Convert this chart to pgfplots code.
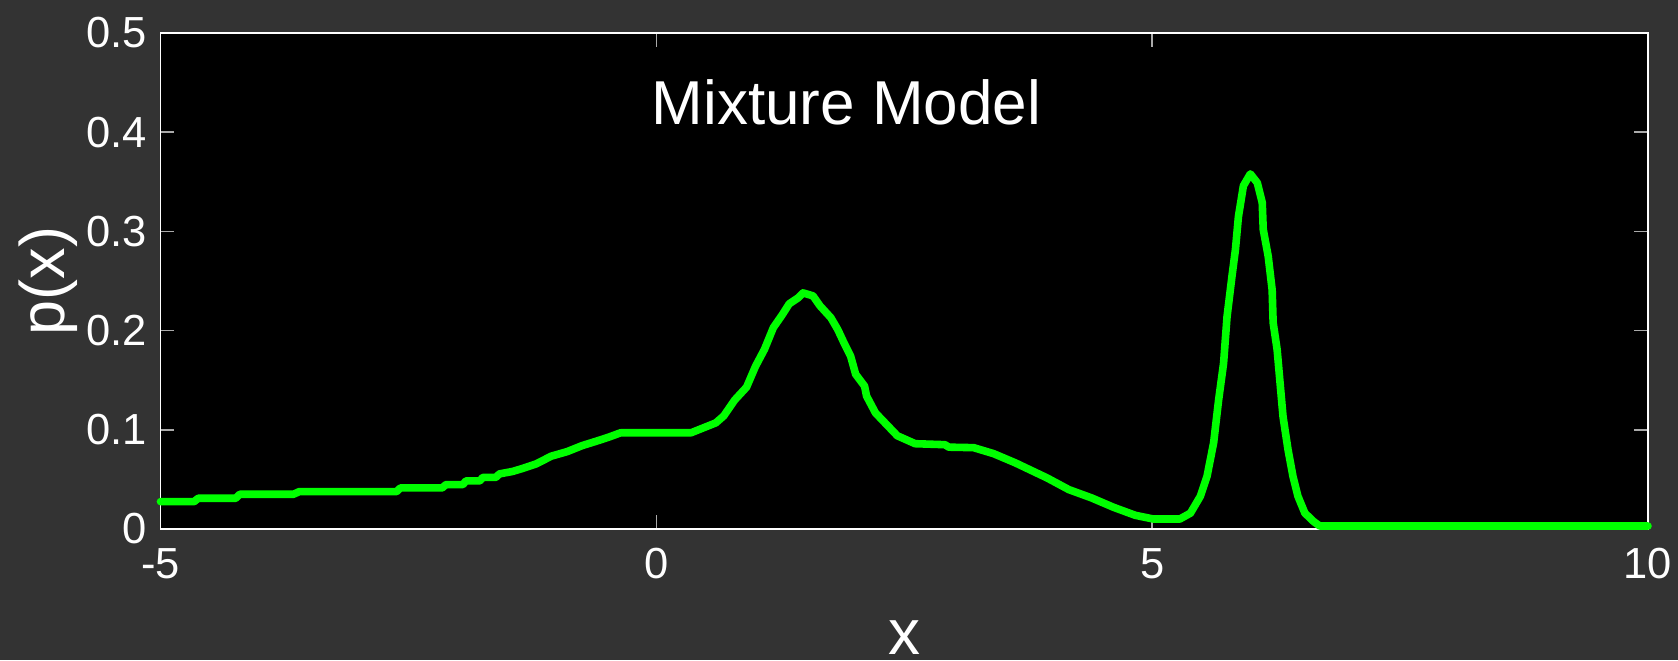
\documentclass[border=0pt]{standalone}
\usepackage{fontspec}
\setmainfont{Liberation Sans}
\usepackage{pgfplots}
\pgfplotsset{compat=1.18}
\definecolor{bgc}{RGB}{51,51,51}
\definecolor{ticc}{RGB}{170,170,170}
\definecolor{lgreen}{RGB}{0,255,0}
\begin{document}
\begin{tikzpicture}
\fill[bgc] (-80.25pt,-65.5pt) rectangle (758.75pt,264.5pt);
\begin{axis}[
  at={(0pt,0pt)}, anchor=south west,
  scale only axis, width=743.75pt, height=248pt,
  xmin=-5, xmax=10, ymin=0, ymax=0.5,
  xtick={-5,0,5,10}, ytick={0,0.1,0.2,0.3,0.4,0.5},
  axis background/.style={fill=black},
  axis line style={white, line width=0.8pt},
  tick style={ticc, line width=0.8pt},
  major tick length=7pt,
  tick align=inside,
  tick pos=both,
  clip=false,
  /pgf/number format/assume math mode=true,
  ticklabel style={white, font=\fontsize{21.75}{26}\selectfont},
  xticklabel style={anchor=base, inner sep=0pt, yshift=-24.5pt},
  yticklabel style={anchor=east, inner sep=0pt, xshift=-6.5pt},
  xlabel={x}, ylabel={p(x)},
  every axis x label/.style={at={(axis description cs:0.5,-0.254)}, anchor=base, inner sep=0pt, white, font=\fontsize{32}{38}\selectfont},
  every axis y label/.style={at={(axis description cs:-0.0756,0.5)}, rotate=90, anchor=center, inner sep=0pt, white, font=\fontsize{31.5}{38}\selectfont},
]
\addplot[lgreen, line width=3.8pt, line join=round, line cap=round] coordinates {
(-5,0.0276) (-4.66,0.0276) (-4.62,0.031) (-4.24,0.031) (-4.2,0.035) (-3.66,0.035)
(-3.6,0.0377) (-2.62,0.0377) (-2.58,0.0414) (-2.16,0.0414) (-2.12,0.0448) (-1.95,0.0448)
(-1.92,0.0485) (-1.78,0.0485) (-1.75,0.052) (-1.62,0.052) (-1.58,0.0556) (-1.45,0.058)
(-1.35,0.061) (-1.21,0.0657) (-1.06,0.0734) (-0.9,0.078) (-0.75,0.084) (-0.59,0.089)
(-0.48,0.0926) (-0.36,0.097) (0.35,0.097) (0.45,0.101) (0.6,0.107) (0.68,0.114)
(0.79,0.13) (0.91,0.143) (1.0,0.164) (1.09,0.181) (1.18,0.203) (1.27,0.216)
(1.34,0.227) (1.43,0.233) (1.48,0.238) (1.58,0.235) (1.65,0.225) (1.76,0.213)
(1.83,0.201) (1.90,0.186) (1.96,0.174) (2.01,0.156) (2.10,0.144) (2.12,0.134)
(2.21,0.117) (2.43,0.094) (2.61,0.086) (2.91,0.085) (2.95,0.0825) (3.20,0.082)
(3.40,0.076) (3.62,0.0667) (3.94,0.0515) (4.16,0.0397) (4.39,0.0313) (4.61,0.0219)
(4.83,0.0138) (5.01,0.0101) (5.28,0.0101) (5.386,0.016) (5.486,0.033) (5.553,0.053)
(5.62,0.087) (5.67,0.130) (5.72,0.167) (5.755,0.214) (5.805,0.255) (5.84,0.282)
(5.87,0.315) (5.92,0.346) (5.99,0.358) (6.06,0.349) (6.11,0.329) (6.12,0.302)
(6.17,0.275) (6.21,0.241) (6.22,0.208) (6.26,0.181) (6.29,0.147) (6.32,0.113)
(6.37,0.080) (6.42,0.053) (6.47,0.033) (6.54,0.016) (6.63,0.0074) (6.69,0.003)
(10,0.003)
};
\node[white, font=\fontsize{31}{37}\selectfont] at (axis cs:1.918,0.43) {Mixture Model};
\end{axis}
\end{tikzpicture}
\end{document}
